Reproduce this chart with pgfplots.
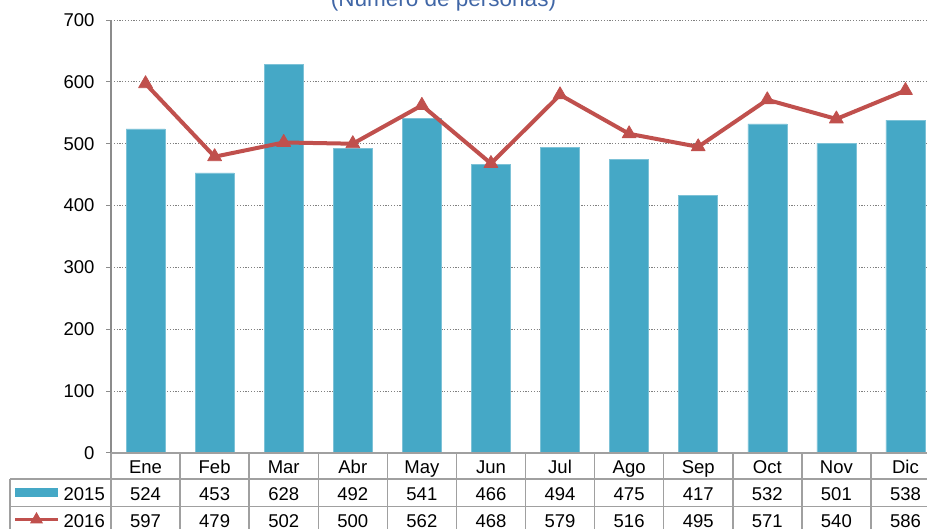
\documentclass[border=0pt]{standalone}
\usepackage{pgfplots}
\pgfplotsset{compat=1.18}
\usepackage{pgfplotstable}
\usepackage{fontspec}
\setmainfont{Liberation Sans}
\definecolor{c15}{HTML}{45A8C6}
\definecolor{c16}{HTML}{C0504D}
\definecolor{tblue}{HTML}{4066A6}
\definecolor{lg}{HTML}{A0A0A0}
\definecolor{ax}{HTML}{8C8C8C}

\pgfplotstableread{
i m a b
0 Ene 524 597
1 Feb 453 479
2 Mar 628 502
3 Abr 492 500
4 May 541 562
5 Jun 466 468
6 Jul 494 579
7 Ago 475 516
8 Sep 417 495
9 Oct 532 571
10 Nov 501 540
11 Dic 538 586
}\data

\newcommand\fs{\fontsize{18.5}{21}\selectfont}

\begin{document}
\begin{tikzpicture}[x=1pt,y=1pt]
\useasboundingbox (0,0) rectangle (927,528);
\clip (0,0) rectangle (927,528);
\begin{axis}[
  at={(111pt,75pt)}, anchor=south west,
  scale only axis, width=829pt, height=433pt,
  xmin=-0.5, xmax=11.5, ymin=0, ymax=700,
  axis x line=none,
  axis y line=left,
  y axis line style={-, draw=ax, line width=1.3pt},
  ytick={0,100,...,700},
  tick align=outside,
  major tick length=5pt,
  ytick style={draw=ax, line width=1pt},
  ymajorgrids,
  grid style={draw=gray, line width=1pt, dash pattern=on 1.2pt off 1.6pt},
  yticklabel style={font=\fs, text=black, xshift=-8pt},
  /pgf/number format/assume math mode=true,
  clip=false,
]
\addplot[ybar, bar width=39pt, fill=c15, draw=c15!70!white, line width=0.5pt] table[x=i, y=a]{\data};
\addplot[c16, line width=4pt, line join=round, mark=triangle*, mark size=8pt, mark options={solid, line width=0.8pt}] table[x=i, y=b]{\data};
\end{axis}
% table grid
\begin{scope}[lg, line width=1.5pt]
\draw (111,75) -- (940,75);
\draw (10,49) -- (940,49);
\draw (10,21.5) -- (940,21.5);
\draw (10,49) -- (10,-10);
\foreach \k in {0,...,12} \draw ({111+69.083*\k},75) -- ++(0,-90);
\end{scope}
\foreach \k in {0,...,11}{
  \pgfplotstablegetelem{\k}{m}\of\data
  \node[anchor=base, font=\fs, inner sep=0pt] at ({111+69.083*(\k+0.5)},54.7) {\pgfplotsretval};
  \pgfplotstablegetelem{\k}{a}\of\data
  \node[anchor=base, font=\fs, inner sep=0pt] at ({111+69.083*(\k+0.5)},28) {\pgfplotsretval};
  \pgfplotstablegetelem{\k}{b}\of\data
  \node[anchor=base, font=\fs, inner sep=0pt] at ({111+69.083*(\k+0.5)},1) {\pgfplotsretval};
}
% legend keys
\fill[c15] (15,31) rectangle (58,40);
\node[anchor=base east, font=\fs, inner sep=0pt] at (105,28) {2015};
\draw[c16, line width=3.5pt] (15,8.5) -- (58,8.5);
\fill[c16] (36.5,8.5) ++(90:7.5) -- ++(-120:13) -- ++(0:13) -- cycle;
\node[anchor=base east, font=\fs, inner sep=0pt] at (105,1) {2016};
% title
\node[anchor=base, font=\fontsize{22.5}{26}\selectfont, text=tblue, inner sep=0pt] at (443.5,521) {(Número de personas)};
\end{tikzpicture}
\end{document}
